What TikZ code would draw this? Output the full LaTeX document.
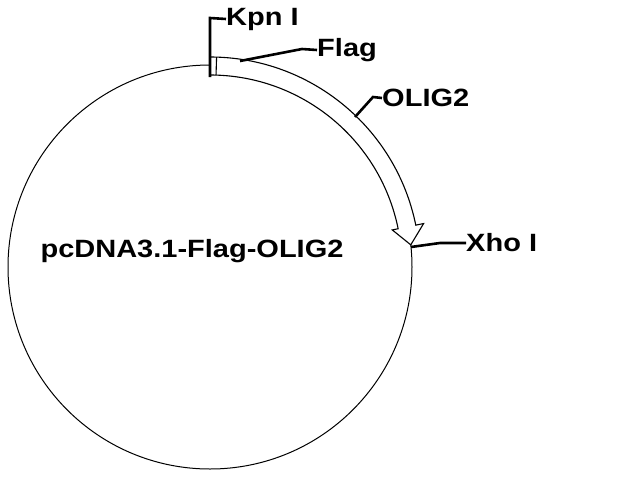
\documentclass[tikz,border=0pt]{standalone}
\usepackage{fontspec}
\setmainfont{Liberation Sans}
\begin{document}
\begin{tikzpicture}[x=1pt,y=-1pt,
  lbl/.style={font=\bfseries\fontsize{25}{25}\selectfont,anchor=west,inner sep=0pt,xscale=1.16},
  ln/.style={line width=2.6pt}]
\useasboundingbox (0,0) rectangle (640,480);
\coordinate (c) at (210,267);
\draw[line width=1pt] (c) circle[radius=202];
% arrow band
\draw[fill=white,line width=1.1pt] ([shift={(-90:210)}]c) arc[start angle=-90,end angle=-11.5,radius=210]
  -- ([shift={(-11.5:218)}]c) -- ([shift={(-6.3:202)}]c) -- ([shift={(-11.5:186)}]c)
  -- ([shift={(-11.5:192)}]c) arc[start angle=-11.5,end angle=-90,radius=192] -- cycle;
\draw[line width=1.1pt] ([shift={(-88.2:210)}]c) -- ([shift={(-88.2:192)}]c);
\node[lbl] (kpn) at (226,19) {Kpn I};
\node[lbl] (flag) at (317,50) {Flag};
\node[lbl] (olig) at (382,98) {OLIG2};
\node[lbl] (xho) at (466,243) {Xho I};
\node[lbl,anchor=center] (name) at (192,251) {pcDNA3.1-Flag-OLIG2};
\coordinate (k0) at (210,77);
\coordinate (f0) at (240,61);
\coordinate (o0) at (355,117);
\coordinate (x0) at (411,247);
\draw[ln] (k0) -- (210,18) -- (kpn.west);
\draw[ln] (f0) -- (302,49) -- (flag.west);
\draw[ln] (o0) -- (373,97) -- (olig.west);
\draw[ln] (x0) -- (440,243) -- (xho.west);
\end{tikzpicture}
\end{document}
